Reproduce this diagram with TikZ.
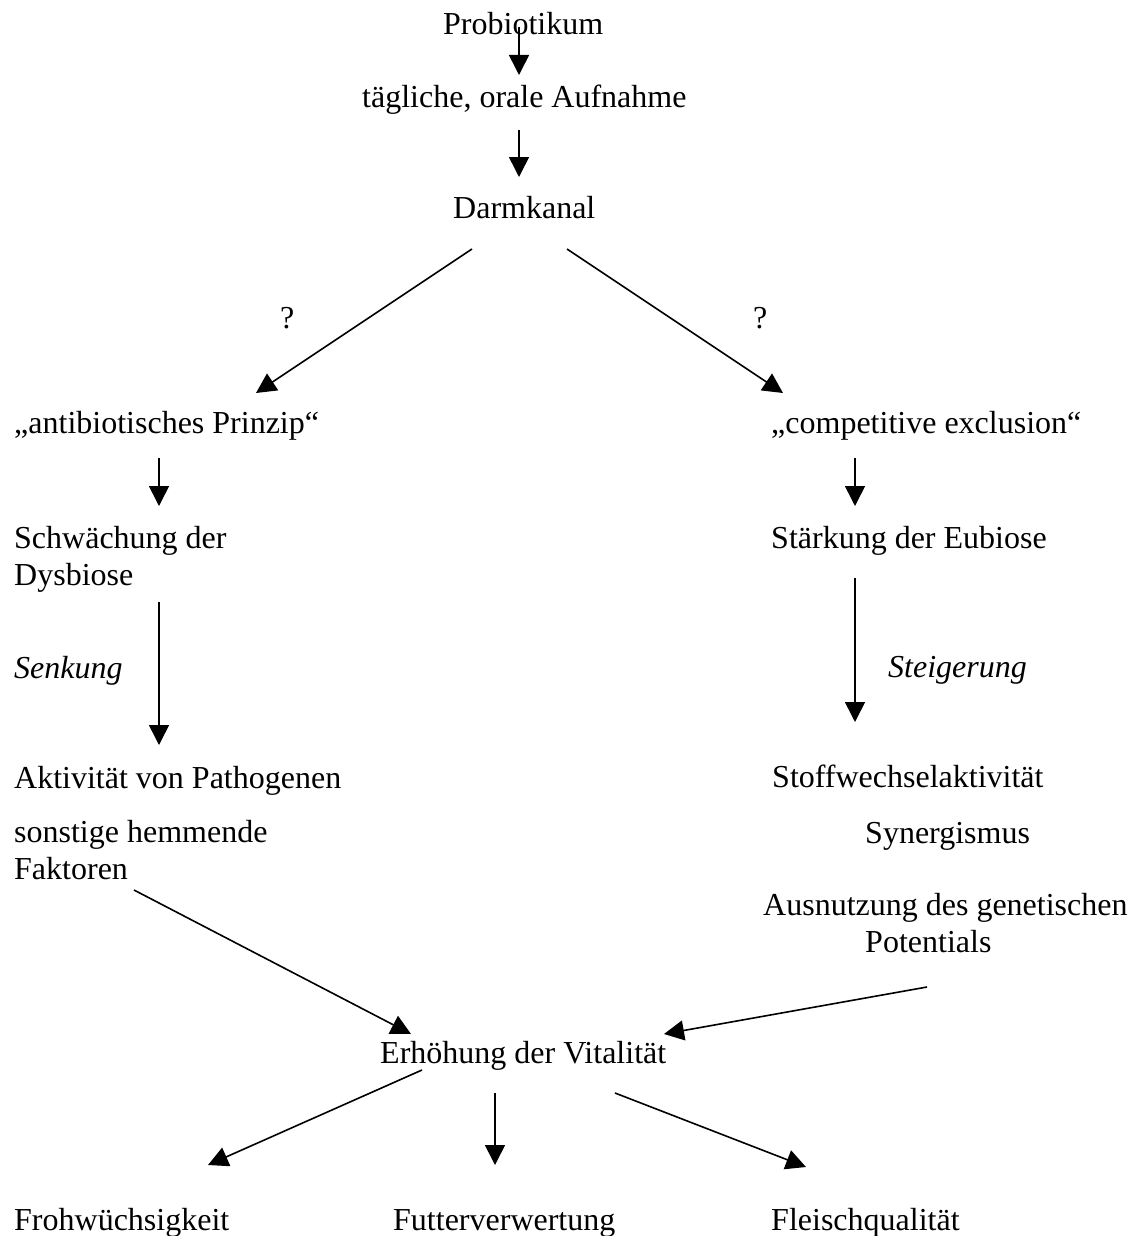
\documentclass[tikz,border=0pt]{standalone}
\usepackage{fontspec}
\setmainfont{Liberation Serif}
\usetikzlibrary{arrows.meta}
\newcommand{\twolines}[2]{\begin{tabular}[t]{@{}l@{}}#1\\#2\end{tabular}}
\begin{document}
\begin{tikzpicture}[x=1pt,y=-1pt,
  txt/.style={inner sep=0pt, anchor=base west, font=\fontsize{32}{37}\selectfont},
  itxt/.style={txt, font=\fontsize{32}{37}\selectfont\itshape},
  arr/.style={-{Triangle[length=20pt,width=20pt]}, line width=1.6pt}]
\useasboundingbox (0,0) rectangle (1140,1236);
% texts
\node[txt] (probio) at (443,35) {Probiotikum};
\node[txt] (taeglich) at (362,108) {tägliche, orale Aufnahme};
\node[txt] (darm) at (453,218) {Darmkanal};
\node[txt] (q1) at (280,328) {?};
\node[txt] (q2) at (753,328) {?};
\node[txt] (anti) at (14,433) {„antibiotisches Prinzip“};
\node[txt] (comp) at (771,433) {„competitive exclusion“};
\node[txt] (schw) at (14,548) {\twolines{Schwächung der}{Dysbiose}};
\node[txt] (staerk) at (771,548) {Stärkung der Eubiose};
\node[itxt] (senk) at (14,678) {Senkung};
\node[itxt] (steig) at (888,677) {Steigerung};
\node[txt] (aktiv) at (14,788) {Aktivität von Pathogenen};
\node[txt] (stoff) at (772,787) {Stoffwechselaktivität};
\node[txt] (sonst) at (14,842) {\twolines{sonstige hemmende}{Faktoren}};
\node[txt] (syn) at (865,843) {Synergismus};
\node[txt] (ausn) at (763,915) {\twolines{Ausnutzung des genetischen}{\hspace*{102pt}Potentials}};
\node[txt] (vital) at (380,1063) {Erhöhung der Vitalität};
\node[txt] (froh) at (14,1230) {Frohwüchsigkeit};
\node[txt] (futter) at (393,1230) {Futterverwertung};
\node[txt] (fleisch) at (771,1230) {Fleischqualität};
% connector end points
\coordinate (a1s) at (519,27);   \coordinate (a1e) at (519,75);
\coordinate (a2s) at (519,130);  \coordinate (a2e) at (519,177);
\coordinate (a3s) at (472,249);  \coordinate (a3e) at (256,393);
\coordinate (a4s) at (567,249);  \coordinate (a4e) at (783,393);
\coordinate (a5s) at (159,458);  \coordinate (a5e) at (159,506);
\coordinate (a6s) at (855,458);  \coordinate (a6e) at (855,506);
\coordinate (a7s) at (159,602);  \coordinate (a7e) at (159,745);
\coordinate (a8s) at (855,578);  \coordinate (a8e) at (855,722);
\coordinate (a9s) at (134,890);  \coordinate (a9e) at (411,1034);
\coordinate (a10s) at (927,987); \coordinate (a10e) at (664,1034);
\coordinate (a11s) at (422,1070); \coordinate (a11e) at (208,1165);
\coordinate (a12s) at (495,1093); \coordinate (a12e) at (495,1165);
\coordinate (a13s) at (615,1093); \coordinate (a13e) at (806,1167);
% connectors
\draw[arr] (a1s) -- (a1e);
\draw[arr] (a2s) -- (a2e);
\draw[arr] (a3s) -- (a3e);
\draw[arr] (a4s) -- (a4e);
\draw[arr] (a5s) -- (a5e);
\draw[arr] (a6s) -- (a6e);
\draw[arr] (a7s) -- (a7e);
\draw[arr] (a8s) -- (a8e);
\draw[arr] (a9s) -- (a9e);
\draw[arr] (a10s) -- (a10e);
\draw[arr] (a11s) -- (a11e);
\draw[arr] (a12s) -- (a12e);
\draw[arr] (a13s) -- (a13e);
\end{tikzpicture}
\end{document}
